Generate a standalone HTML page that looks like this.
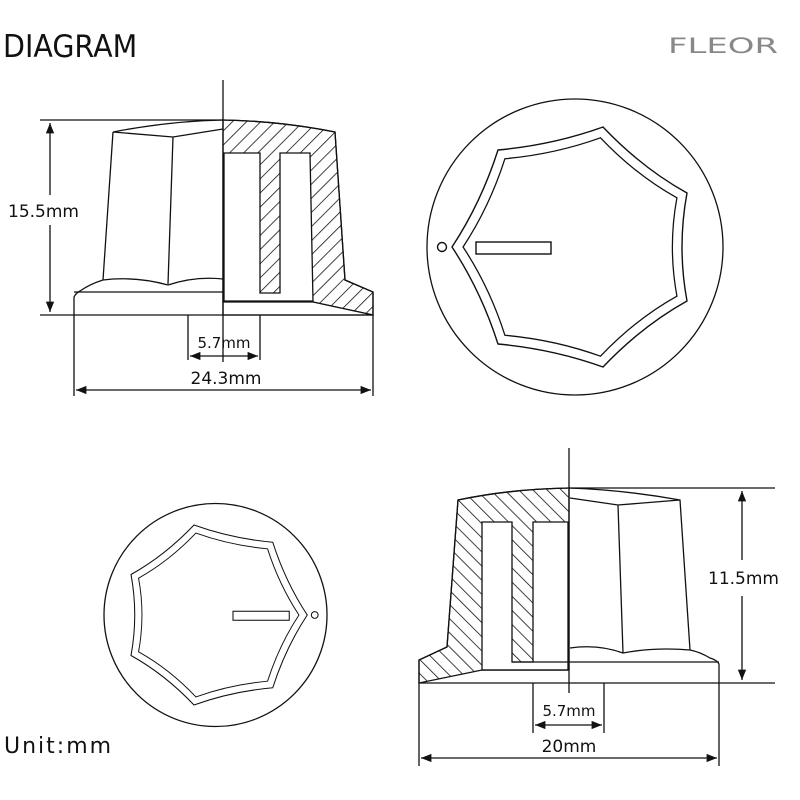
<!DOCTYPE html>
<html><head><meta charset="utf-8"><style>
html,body{margin:0;padding:0;background:#fff;}
svg{display:block;}
text{font-family:"DejaVu Sans","Liberation Sans",sans-serif;fill:#111;}
</style></head><body>
<svg width="800" height="800" viewBox="0 0 800 800" xmlns="http://www.w3.org/2000/svg">
<defs>
<pattern id="h1" width="10" height="10" patternUnits="userSpaceOnUse" patternTransform="rotate(45)">
<line x1="0" y1="0" x2="0" y2="10" stroke="#111" stroke-width="1.6"/></pattern>
<pattern id="h2" width="10" height="10" patternUnits="userSpaceOnUse" patternTransform="rotate(-45)">
<line x1="0" y1="0" x2="0" y2="10" stroke="#111" stroke-width="1.6"/></pattern>
<marker id="ar" viewBox="0 0 10 10" refX="10" refY="5" markerWidth="8" markerHeight="8" orient="auto-start-reverse">
<path d="M0,1 L10,5 L0,9 z" fill="#111"/></marker>
<g id="star" fill="none" stroke="#111" stroke-width="1.4">
<path d="M-123,0 Q-94,-44 -77,-97 Q-22,-102 28,-120 Q67,-79 112,-54 Q102,0 112,54 Q67,79 28,120 Q-22,102 -77,97 Q-94,44 -123,0 Z"/>
<path transform="scale(0.91)" d="M-123,0 Q-94,-44 -77,-97 Q-22,-102 28,-120 Q67,-79 112,-54 Q102,0 112,54 Q67,79 28,120 Q-22,102 -77,97 Q-94,44 -123,0 Z"/>
<rect x="-99" y="-5" width="75" height="12"/>
<circle cx="-133" cy="0" r="4.5"/>
</g>
</defs>

<text x="3" y="57" font-size="31" transform="translate(3,0) scale(0.92,1) translate(-3,0)">DIAGRAM</text>
<text x="668" y="53" font-size="21" style="fill:#888" textLength="110" lengthAdjust="spacingAndGlyphs">FLEOR</text>
<text x="4" y="753" font-size="22" letter-spacing="2">Unit:mm</text>

<!-- Top-left knob -->
<g stroke="#111" stroke-width="1.3" fill="none">
<path d="M223,120 Q280,121 335,132 L345,280 L373,292 L373,315 L313,302 L223,302 Z" fill="url(#h1)"/>
<path d="M224,153 L260,153 L260,293 L280,293 L280,153 L310,153 L313,301 L224,301 Z" fill="#fff"/>
<path d="M223,302 L313,302 L373,315 L223,315 Z" fill="#fff"/>
<path d="M223,120 Q280,121 335,132 L345,280 L373,292 L373,315"/>
<path d="M74,315 L74,297 Q76,293 80,291 Q90,284 103,280 Q135,276 168,285 Q195,276 223,279"/>
<line x1="74" y1="292" x2="223" y2="292"/>
<path d="M113,132 L103,280 M173,137 L168,284 M113,132 L173,137 L223,129 M113,132 Q170,121 223,120"/>
<line x1="40" y1="120" x2="223" y2="120"/>
<line x1="40" y1="315" x2="373" y2="315"/>
<line x1="223" y1="80" x2="223" y2="362"/>
<line x1="50" y1="123" x2="50" y2="195" marker-start="url(#ar)"/>
<line x1="50" y1="225" x2="50" y2="312" marker-end="url(#ar)"/>
<line x1="188" y1="315" x2="188" y2="360"/>
<line x1="260" y1="315" x2="260" y2="360"/>
<line x1="190" y1="356" x2="258" y2="356" marker-start="url(#ar)" marker-end="url(#ar)"/>
<line x1="74" y1="315" x2="74" y2="396"/>
<line x1="373" y1="315" x2="373" y2="396"/>
<line x1="76" y1="390" x2="371" y2="390" marker-start="url(#ar)" marker-end="url(#ar)"/>
</g>
<text x="8" y="217" font-size="17">15.5mm</text>
<text x="224" y="348" font-size="15" text-anchor="middle">5.7mm</text>
<text x="226" y="384" font-size="17" text-anchor="middle">24.3mm</text>

<!-- Top-right circle -->
<circle cx="575" cy="247" r="148" fill="none" stroke="#111" stroke-width="1.3"/>
<use href="#star" transform="translate(575,247)"/>

<!-- Bottom-left circle -->
<circle cx="215.5" cy="615" r="111.5" fill="none" stroke="#111" stroke-width="1.3"/>
<use href="#star" transform="translate(215,615) scale(-0.75,0.75)"/>

<!-- Bottom-right knob -->
<g stroke="#111" stroke-width="1.3" fill="none">
<path d="M569,488 Q510,489 458,500 L447,647 L419,660 L419,683 L482,670 L569,670 Z" fill="url(#h2)"/>
<path d="M482,522 L512,522 L512,662 L533,662 L533,522 L568,522 L568,670 L482,670 Z" fill="#fff"/>
<path d="M569,488 Q510,489 458,500 L447,647 L419,660 L419,683"/>
<line x1="482" y1="670" x2="569" y2="670"/>
<line x1="512" y1="662" x2="719" y2="662"/>
<path d="M719,683 L719,664 Q717,660 710,658 Q700,652 690,650 Q655,647 623,653 Q598,644 570,648"/>
<path d="M569,488 Q625,490 680,500 L690,650 M618,505 L623,653 M570,498 L618,505 L680,500"/>
<line x1="419" y1="683" x2="775" y2="683"/>
<line x1="569" y1="488" x2="775" y2="488"/>
<line x1="569" y1="448" x2="569" y2="693"/>
<line x1="742" y1="491" x2="742" y2="560" marker-start="url(#ar)"/>
<line x1="742" y1="596" x2="742" y2="680" marker-end="url(#ar)"/>
<line x1="533" y1="683" x2="533" y2="733"/>
<line x1="604" y1="683" x2="604" y2="733"/>
<line x1="535" y1="725" x2="602" y2="725" marker-start="url(#ar)" marker-end="url(#ar)"/>
<line x1="419" y1="683" x2="419" y2="766"/>
<line x1="719" y1="683" x2="719" y2="766"/>
<line x1="421" y1="758" x2="717" y2="758" marker-start="url(#ar)" marker-end="url(#ar)"/>
</g>
<text x="708" y="584" font-size="17">11.5mm</text>
<text x="569" y="716" font-size="15" text-anchor="middle">5.7mm</text>
<text x="569" y="752" font-size="17" text-anchor="middle">20mm</text>
</svg>
</body></html>
